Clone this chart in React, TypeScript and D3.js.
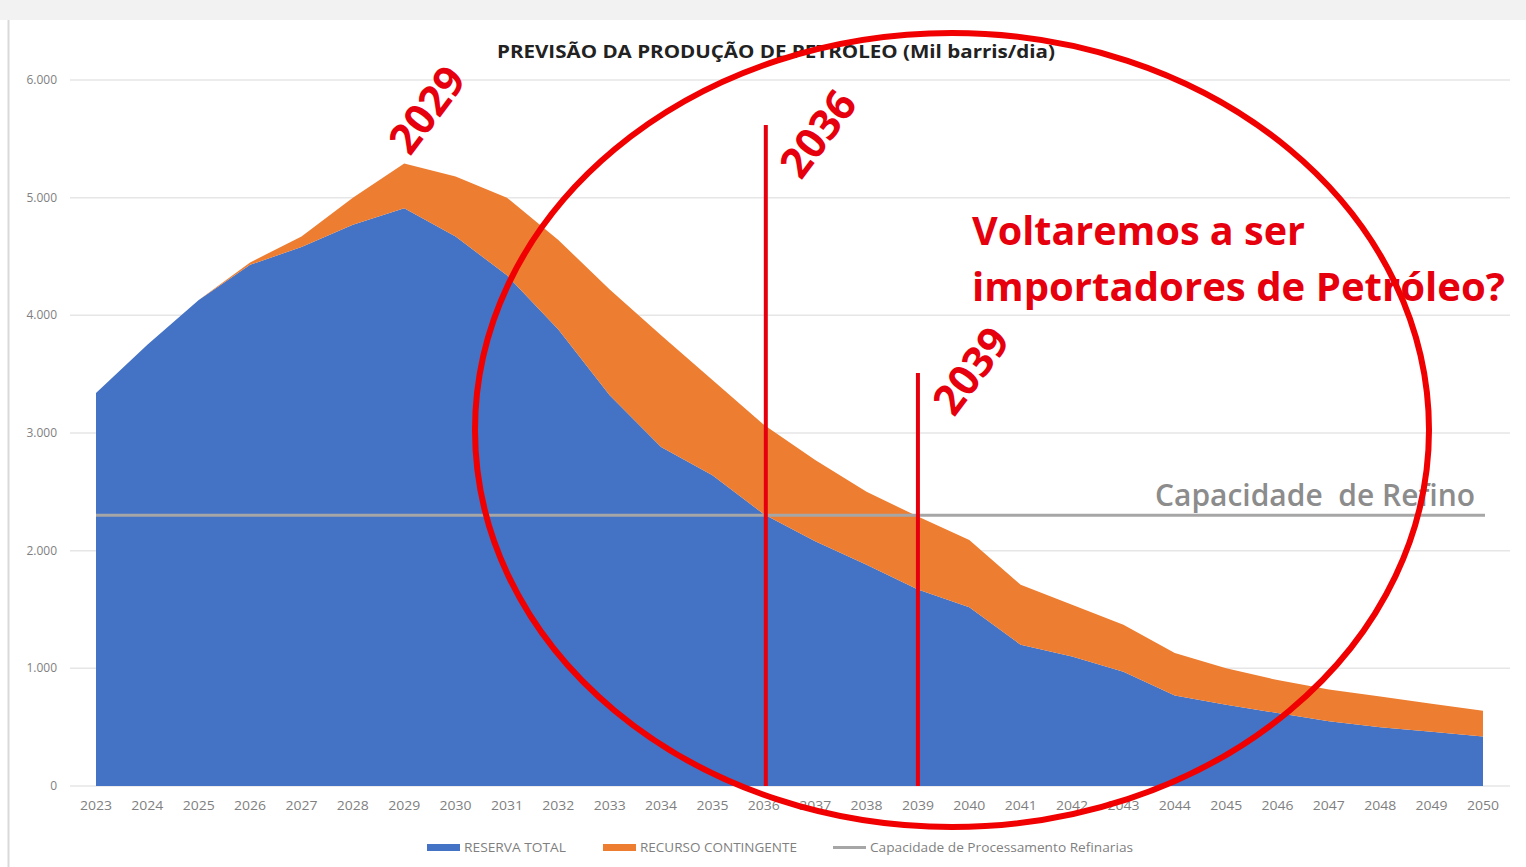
import React, { useEffect, useRef } from 'react';
import * as d3 from 'd3';

const WIDTH = 1526;
const HEIGHT = 867;

const years = [
  2023, 2024, 2025, 2026, 2027, 2028, 2029, 2030, 2031, 2032, 2033, 2034, 2035, 2036,
  2037, 2038, 2039, 2040, 2041, 2042, 2043, 2044, 2045, 2046, 2047, 2048, 2049, 2050,
];
// RESERVA TOTAL (mil barris/dia)
const reservaTotal = [
  3340, 3750, 4130, 4430, 4580, 4770, 4910, 4670, 4340, 3880, 3320, 2880, 2640, 2310,
  2080, 1880, 1670, 1520, 1200, 1100, 970, 770, 690, 620, 550, 500, 460, 420,
];
// RECURSO CONTINGENTE (mil barris/dia)
const recursoContingente = [
  0, 0, 0, 20, 90, 230, 380, 510, 660, 760, 900, 950, 810, 760,
  690, 620, 620, 570, 510, 440, 400, 360, 310, 280, 270, 260, 240, 220,
];
const capacidadeRefino = 2300;
const yTicks = [0, 1000, 2000, 3000, 4000, 5000, 6000];

const BLUE = '#4472c4';
const ORANGE = '#ed7d31';
const RED = '#e6000e';
const FONT = '"Open Sans", "Noto Sans", sans-serif';

export default function App() {
  const ref = useRef(null);

  useEffect(() => {
    document.body.style.margin = '0';
    const svg = d3.select(ref.current);
    svg.selectAll('*').remove();

    const x = d3.scaleLinear().domain([2023, 2050]).range([96, 1483]);
    const y = d3.scaleLinear().domain([0, 6000]).range([786, 80]);
    const fmt = (v) => d3.format(',')(v).replace(/,/g, '.');

    // background
    svg.append('rect').attr('width', WIDTH).attr('height', HEIGHT).attr('fill', '#fff');
    svg.append('rect').attr('width', WIDTH).attr('height', 20).attr('fill', '#f2f2f2');
    svg.append('line').attr('x1', 8.5).attr('x2', 8.5).attr('y1', 20).attr('y2', HEIGHT)
      .attr('stroke', '#d9d9d9').attr('stroke-width', 2);

    // grid + y labels
    const grid = svg.append('g');
    grid.selectAll('line').data(yTicks).enter().append('line')
      .attr('x1', 70).attr('x2', 1510)
      .attr('y1', (d) => y(d)).attr('y2', (d) => y(d))
      .attr('stroke', '#e6e6e6').attr('stroke-width', 1.5);
    grid.selectAll('text').data(yTicks).enter().append('text')
      .attr('x', 57).attr('y', (d) => y(d) + 4)
      .attr('text-anchor', 'end')
      .attr('font-family', FONT).attr('font-size', 12).attr('fill', '#7f7f7f')
      .text((d) => fmt(d));

    // stacked areas
    const data = years.map((yr, i) => ({ year: yr, reserva: reservaTotal[i], recurso: recursoContingente[i] }));
    const stack = d3.stack().keys(['reserva', 'recurso'])(data);
    const area = d3.area()
      .x((d) => x(d.data.year))
      .y0((d) => y(d[0]))
      .y1((d) => y(d[1]));
    svg.append('g').selectAll('path').data(stack).enter().append('path')
      .attr('d', area)
      .attr('fill', (d, i) => (i === 0 ? BLUE : ORANGE));

    // x labels
    svg.append('g').selectAll('text').data(years).enter().append('text')
      .attr('x', (d) => x(d)).attr('y', 810)
      .attr('text-anchor', 'middle')
      .attr('font-family', FONT).attr('font-size', 12).attr('fill', '#7f7f7f')
      .attr('textLength', 32).attr('lengthAdjust', 'spacingAndGlyphs')
      .text((d) => d);

    // capacity line
    svg.append('line')
      .attr('x1', x(2023)).attr('x2', x(2050) + 2)
      .attr('y1', y(capacidadeRefino)).attr('y2', y(capacidadeRefino))
      .attr('stroke', '#a6a6a6').attr('stroke-width', 3);

    // title
    svg.append('text')
      .attr('x', 497).attr('y', 58)
      .attr('font-family', FONT).attr('font-weight', 700).attr('font-size', 18).attr('fill', '#222')
      .attr('textLength', 558).attr('lengthAdjust', 'spacingAndGlyphs')
      .text('PREVISÃO DA PRODUÇÃO DE PETRÓLEO (Mil barris/dia)');

    // legend
    const legend = [
      { label: 'RESERVA TOTAL', color: BLUE, x: 427, w: 102, line: false },
      { label: 'RECURSO CONTINGENTE', color: ORANGE, x: 603, w: 157, line: false },
      { label: 'Capacidade de Processamento Refinarias', color: '#a6a6a6', x: 833, w: 263, line: true },
    ];
    const lg = svg.append('g').selectAll('g').data(legend).enter().append('g');
    lg.append('rect')
      .attr('x', (d) => d.x).attr('y', (d) => (d.line ? 846 : 844))
      .attr('width', 33).attr('height', (d) => (d.line ? 3 : 7))
      .attr('fill', (d) => d.color);
    lg.append('text')
      .attr('x', (d) => d.x + 37).attr('y', 852)
      .attr('font-family', FONT).attr('font-size', 12).attr('fill', '#7f7f7f')
      .attr('textLength', (d) => d.w).attr('lengthAdjust', 'spacingAndGlyphs')
      .text((d) => d.label);

    // annotations
    svg.append('text')
      .attr('x', 1155).attr('y', 506)
      .attr('font-family', FONT).attr('font-weight', 600).attr('font-size', 30).attr('fill', '#8c8c8c')
      .attr('textLength', 320).attr('lengthAdjust', 'spacingAndGlyphs')
      .attr('xml:space', 'preserve')
      .text('Capacidade  de Refino');

    const ann = svg.append('g');
    ann.append('line').attr('x1', x(2036) + 2).attr('x2', x(2036) + 2).attr('y1', 125).attr('y2', y(0))
      .attr('stroke', RED).attr('stroke-width', 4);
    ann.append('line').attr('x1', x(2039)).attr('x2', x(2039)).attr('y1', 373).attr('y2', y(0))
      .attr('stroke', RED).attr('stroke-width', 4);

    const rotated = [
      { t: '2029', x: 410, y: 157 },
      { t: '2036', x: 801, y: 181 },
      { t: '2039', x: 954, y: 418 },
    ];
    ann.selectAll('text.r').data(rotated).enter().append('text')
      .attr('class', 'r')
      .attr('transform', (d) => `translate(${d.x},${d.y}) rotate(-53)`)
      .attr('font-family', FONT).attr('font-weight', 700).attr('font-size', 42).attr('fill', RED)
      .text((d) => d.t);

    ann.append('text').attr('x', 972).attr('y', 245)
      .attr('font-family', FONT).attr('font-weight', 700).attr('font-size', 39).attr('fill', RED)
      .attr('textLength', 333).attr('lengthAdjust', 'spacingAndGlyphs')
      .text('Voltaremos a ser');
    ann.append('text').attr('x', 972).attr('y', 301)
      .attr('font-family', FONT).attr('font-weight', 700).attr('font-size', 39).attr('fill', RED)
      .attr('textLength', 533).attr('lengthAdjust', 'spacingAndGlyphs')
      .text('importadores de Petróleo?');

    ann.append('ellipse')
      .attr('cx', 952).attr('cy', 430).attr('rx', 477).attr('ry', 397)
      .attr('fill', 'none').attr('stroke', '#f00000').attr('stroke-width', 6);
  }, []);

  return <svg ref={ref} width={WIDTH} height={HEIGHT} style={{ display: 'block' }}></svg>;
}
